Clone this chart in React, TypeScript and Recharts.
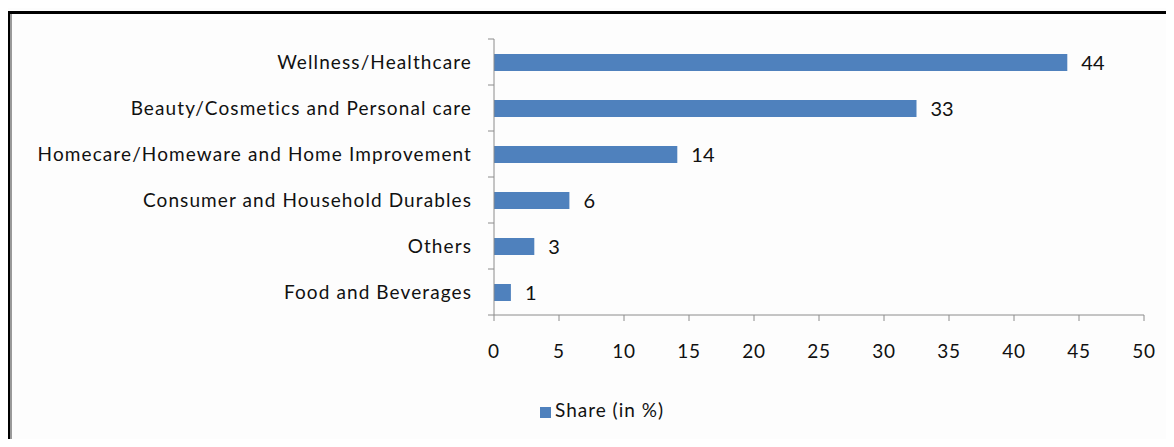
import React from "react";
import {
  BarChart,
  Bar,
  XAxis,
  YAxis,
  Legend,
  LabelList,
} from "recharts";

const categories = [
  "Wellness/Healthcare",
  "Beauty/Cosmetics and Personal care",
  "Homecare/Homeware and Home Improvement",
  "Consumer and Household Durables",
  "Others",
  "Food and Beverages",
];

const shareValues = [44.1, 32.5, 14.1, 5.8, 3.1, 1.3];

const xTicks = [0, 5, 10, 15, 20, 25, 30, 35, 40, 45, 50];

const chartData = categories.map((name, i) => ({
  name,
  share: shareValues[i],
}));

const FONT = "Lato, 'Open Sans', sans-serif";
const AXIS_GRAY = "#8c8c8c";
const CAT_MARGIN = 22;

// category tick: label plus an Excel-style tick mark on the band boundary
const CategoryTick = (props: any) => {
  const { x, y, payload, index } = props;
  const half = payload && typeof payload.offset === "number" ? payload.offset : 0;
  const axisX = x + CAT_MARGIN;
  return (
    <g>
      {half > 0 && (
        <line x1={axisX - 6} x2={axisX} y1={y - half} y2={y - half} stroke={AXIS_GRAY} />
      )}
      {half > 0 && index === categories.length - 1 && (
        <line x1={axisX - 6} x2={axisX} y1={y + half} y2={y + half} stroke={AXIS_GRAY} />
      )}
      <text
        x={x}
        y={y}
        dy="0.355em"
        textAnchor="end"
        fill="#111"
        fontSize={19}
        fontFamily={FONT}
        letterSpacing={1.1}
      >
        {payload.value}
      </text>
    </g>
  );
};

export default function App() {
  return (
    <div
      style={{
        position: "relative",
        width: 1174,
        height: 447,
        margin: -8,
        background: "#fdfdfd",
        overflow: "hidden",
        fontFamily: FONT,
      }}
    >
      <div
        style={{
          position: "absolute",
          left: 6,
          top: 11,
          width: 1300,
          height: 600,
          borderTop: "3px solid #000",
          borderLeft: "4px solid #000",
          boxShadow: "inset 2px 0 0 #9a9a9a",
        }}
      />
      <BarChart
        width={1174}
        height={447}
        data={chartData}
        layout="vertical"
        margin={{ top: 39, right: 30, left: 0, bottom: 0 }}
        barSize={17}
        style={{ position: "absolute", left: 0, top: 0 }}
      >
        <XAxis
          type="number"
          domain={[0, 50]}
          ticks={xTicks}
          interval={0}
          stroke={AXIS_GRAY}
          tickSize={6}
          tickMargin={24}
          height={109}
          tick={{ fill: "#111", fontSize: 19, fontFamily: FONT, letterSpacing: 0.8 }}
        />
        <YAxis
          type="category"
          dataKey="name"
          width={494}
          stroke={AXIS_GRAY}
          tickLine={false}
          tickSize={0}
          tickMargin={CAT_MARGIN}
          interval={0}
          tick={<CategoryTick />}
        />
        <Legend
          iconType="square"
          iconSize={11}
          formatter={(v) => (
            <span style={{ color: "#111", fontSize: 19, fontFamily: FONT, letterSpacing: 1 }}>
              {v}
            </span>
          )}
          wrapperStyle={{ left: 540, top: 398, width: "auto" }}
        />
        <Bar
          dataKey="share"
          name="Share (in %)"
          fill="#4f81bd"
          isAnimationActive={false}
        >
          <LabelList
            dataKey="share"
            position="right"
            offset={14}
            formatter={(v: number) => Math.round(v)}
            style={{ fill: "#111", fontSize: 20, fontFamily: FONT }}
          />
        </Bar>
      </BarChart>
    </div>
  );
}
